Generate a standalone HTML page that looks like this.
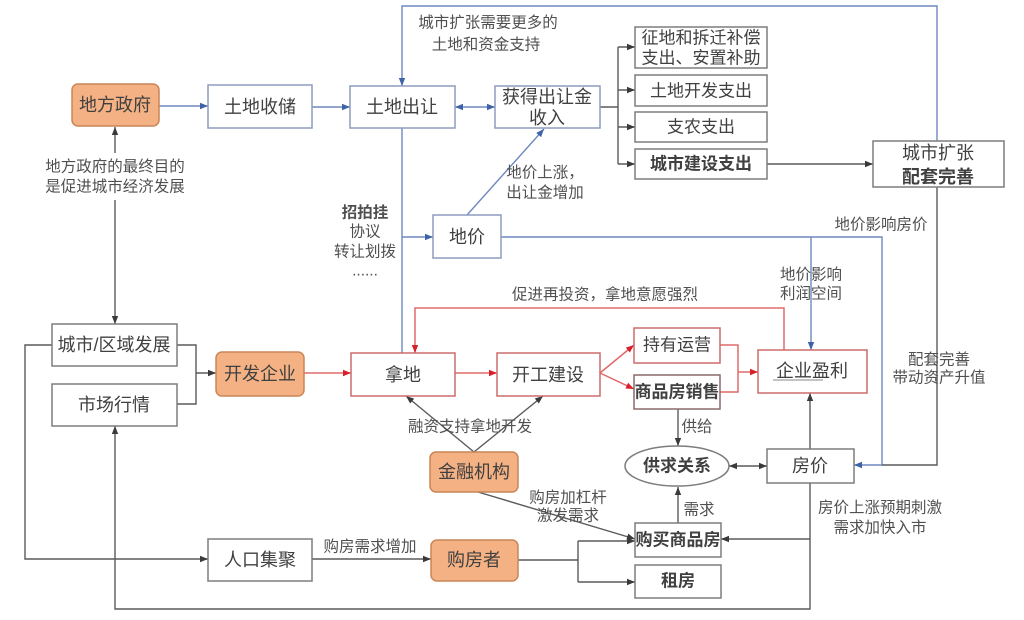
<!DOCTYPE html>
<html>
<head>
<meta charset="utf-8">
<style>
  html,body{margin:0;padding:0;background:#fff;}
  svg{display:block;}
  text{font-family:"Liberation Sans","Noto Sans CJK SC",sans-serif;fill:#404040;}
  .bx{font-size:18px;}
  .sb{font-size:17px;}
  .lb{font-size:15.5px;fill:#505050;}
  .b{font-weight:bold;}
</style>
</head>
<body>
<svg width="1024" height="620" viewBox="0 0 1024 620" xmlns="http://www.w3.org/2000/svg">
  <defs>
    <marker id="ab" viewBox="0 0 10 10" refX="10" refY="5" markerWidth="9" markerHeight="8" markerUnits="userSpaceOnUse" orient="auto-start-reverse">
      <path d="M0,1 L10,5 L0,9 z" fill="#3f63a8"/>
    </marker>
    <marker id="ag" viewBox="0 0 10 10" refX="10" refY="5" markerWidth="9" markerHeight="8" markerUnits="userSpaceOnUse" orient="auto-start-reverse">
      <path d="M0,1 L10,5 L0,9 z" fill="#3a3a3a"/>
    </marker>
    <marker id="ar" viewBox="0 0 10 10" refX="10" refY="5" markerWidth="9" markerHeight="8" markerUnits="userSpaceOnUse" orient="auto-start-reverse">
      <path d="M0,1 L10,5 L0,9 z" fill="#d8202a"/>
    </marker>
  </defs>

  <!-- ============ connectors: blue ============ -->
  <g fill="none" stroke="#6f88bf" stroke-width="1.4">
    <path d="M159,106 H208" marker-end="url(#ab)"/>
    <path d="M312,107 H350" marker-end="url(#ab)"/>
    <path d="M455,107 H495" marker-start="url(#ab)" marker-end="url(#ab)"/>
    <path d="M937,141 V6 H402 V86" marker-end="url(#ab)"/>
    <path d="M402,128 V353"/>
    <path d="M402,237 H433" marker-end="url(#ab)"/>
    <path d="M467,215 L544,129" marker-end="url(#ab)"/>
    <path d="M501,237 H882 V465 H854" marker-end="url(#ab)"/>
    <path d="M811,237 V350" marker-end="url(#ab)"/>
  </g>

  <!-- ============ connectors: gray ============ -->
  <g fill="none" stroke="#5a5a5a" stroke-width="1.4">
    <path d="M600,107 H618"/>
    <path d="M618,47 V164"/>
    <path d="M618,47 H635" marker-end="url(#ag)"/>
    <path d="M618,90 H635" marker-end="url(#ag)"/>
    <path d="M618,127 H635" marker-end="url(#ag)"/>
    <path d="M618,164 H635" marker-end="url(#ag)"/>
    <path d="M767,164 H873" marker-end="url(#ag)"/>
    <path d="M937,187 V465 H882"/>
    <path d="M115,153 V127" marker-end="url(#ag)"/>
    <path d="M115,200 V324" marker-end="url(#ag)"/>
    <path d="M177,345 H196 V404 H177"/>
    <path d="M196,373 H216" marker-end="url(#ag)"/>
    <path d="M52,345 H25 V559 H208" marker-end="url(#ag)"/>
    <path d="M312,559 H431" marker-end="url(#ag)"/>
    <path d="M474,452 L406,396" marker-end="url(#ag)"/>
    <path d="M474,452 L543,396" marker-end="url(#ag)"/>
    <path d="M478,492 L635,539" marker-end="url(#ag)"/>
    <path d="M518,560 H578"/>
    <path d="M578,541 V582"/>
    <path d="M578,541 H635" marker-end="url(#ag)"/>
    <path d="M578,582 H635" marker-end="url(#ag)"/>
    <path d="M678,409 V446" marker-end="url(#ag)"/>
    <path d="M678,523 V487" marker-end="url(#ag)"/>
    <path d="M729,466 H767" marker-start="url(#ag)" marker-end="url(#ag)"/>
    <path d="M810,449 V393" marker-end="url(#ag)"/>
    <path d="M810,483 V609 H115 V426" marker-end="url(#ag)"/>
    <path d="M810,539 H721" marker-end="url(#ag)"/>
  </g>

  <!-- ============ connectors: red ============ -->
  <g fill="none" stroke="#e06a6a" stroke-width="1.5">
    <path d="M304,373 H351" marker-end="url(#ar)"/>
    <path d="M455,373 H497" marker-end="url(#ar)"/>
    <path d="M600,373 L634,345" marker-end="url(#ar)"/>
    <path d="M600,373 L634,389" marker-end="url(#ar)"/>
    <path d="M720,345 H738 V392 H720"/>
    <path d="M738,372 H758" marker-end="url(#ar)"/>
    <path d="M784,350 V308 H415 V353" marker-end="url(#ar)"/>
  </g>

  <!-- ============ boxes ============ -->
  <!-- orange -->
  <g fill="#f4b183" stroke="#c98657" stroke-width="1.5">
    <rect x="72" y="84" width="87" height="42" rx="6"/>
    <rect x="216" y="352" width="88" height="44" rx="6"/>
    <rect x="430" y="452" width="88" height="40" rx="6"/>
    <rect x="431" y="540" width="87" height="41" rx="6"/>
  </g>
  <!-- blue-gray -->
  <g fill="#fff" stroke="#8d9cbd" stroke-width="1.5">
    <rect x="208" y="85" width="104" height="43"/>
    <rect x="350" y="86" width="105" height="42"/>
    <rect x="495" y="86" width="105" height="42"/>
    <rect x="433" y="215" width="68" height="43"/>
  </g>
  <!-- gray -->
  <g fill="#fff" stroke="#7d7d7d" stroke-width="1.5">
    <rect x="635" y="27" width="132" height="41"/>
    <rect x="635" y="75" width="132" height="31"/>
    <rect x="635" y="112" width="132" height="30"/>
    <rect x="635" y="149" width="132" height="30"/>
    <rect x="873" y="141" width="131" height="46"/>
    <rect x="52" y="324" width="125" height="42"/>
    <rect x="52" y="384" width="125" height="42"/>
    <rect x="767" y="449" width="87" height="34"/>
    <rect x="635" y="523" width="86" height="34"/>
    <rect x="635" y="565" width="86" height="33"/>
    <rect x="208" y="539" width="104" height="42"/>
    <ellipse cx="677" cy="466" rx="52" ry="20"/>
  </g>
  <!-- red -->
  <g fill="#fff" stroke="#cc6b6b" stroke-width="1.5">
    <rect x="351" y="353" width="104" height="43"/>
    <rect x="497" y="353" width="103" height="43"/>
    <rect x="634" y="328" width="86" height="35"/>
    <rect x="758" y="350" width="109" height="43"/>
  </g>
  <g fill="#fff" stroke="#8a6a6a" stroke-width="1.5">
    <rect x="634" y="375" width="86" height="34"/>
  </g>
  <line x1="773" y1="380" x2="823" y2="380" stroke="#888" stroke-width="1"/>

  <!-- ============ box texts ============ -->
  <g text-anchor="middle" dominant-baseline="central">
    <text class="bx" x="115" y="105">地方政府</text>
    <text class="bx" x="260" y="107">土地收储</text>
    <text class="bx" x="402" y="107">土地出让</text>
    <text class="bx" x="547" y="97">获得出让金</text>
    <text class="bx" x="547" y="118">收入</text>
    <text class="sb" x="701" y="38">征地和拆迁补偿</text>
    <text class="sb" x="701" y="58">支出、安置补助</text>
    <text class="sb" x="701" y="91">土地开发支出</text>
    <text class="sb" x="701" y="127">支农支出</text>
    <text class="sb b" x="701" y="164">城市建设支出</text>
    <text class="bx" x="938" y="153">城市扩张</text>
    <text class="bx b" x="938" y="177">配套完善</text>
    <text class="bx" x="467" y="237">地价</text>
    <text class="bx" x="114" y="345">城市/区域发展</text>
    <text class="bx" x="114" y="405">市场行情</text>
    <text class="bx" x="260" y="374">开发企业</text>
    <text class="bx" x="403" y="375">拿地</text>
    <text class="bx" x="548" y="375">开工建设</text>
    <text class="sb" x="677" y="345">持有运营</text>
    <text class="sb b" x="677" y="392">商品房销售</text>
    <text class="bx" x="812" y="371">企业盈利</text>
    <text class="sb b" x="677" y="466">供求关系</text>
    <text class="bx" x="810" y="466">房价</text>
    <text class="bx" x="474" y="472">金融机构</text>
    <text class="bx" x="474" y="560">购房者</text>
    <text class="bx" x="260" y="560">人口集聚</text>
    <text class="sb b" x="678" y="540">购买商品房</text>
    <text class="sb b" x="678" y="581">租房</text>
  </g>

  <!-- ============ labels ============ -->
  <g text-anchor="middle" dominant-baseline="central">
    <text class="lb" x="488" y="23">城市扩张需要更多的</text>
    <text class="lb" x="486" y="45">土地和资金支持</text>
    <text class="lb" x="115" y="167">地方政府的最终目的</text>
    <text class="lb" x="115" y="187">是促进城市经济发展</text>
    <text class="lb" x="545" y="173">地价上涨，</text>
    <text class="lb" x="545" y="193">出让金增加</text>
    <text class="lb b" x="365" y="213">招拍挂</text>
    <text class="lb" x="365" y="232">协议</text>
    <text class="lb" x="365" y="252">转让划拨</text>
    <text class="lb" x="365" y="271">......</text>
    <text class="lb" x="881" y="225">地价影响房价</text>
    <text class="lb" x="811" y="275">地价影响</text>
    <text class="lb" x="811" y="294">利润空间</text>
    <text class="lb" x="605" y="295">促进再投资，拿地意愿强烈</text>
    <text class="lb" x="939" y="360">配套完善</text>
    <text class="lb" x="939" y="378">带动资产升值</text>
    <text class="lb" x="470" y="427">融资支持拿地开发</text>
    <text class="lb" x="697" y="427">供给</text>
    <text class="lb" x="568" y="498">购房加杠杆</text>
    <text class="lb" x="568" y="516">激发需求</text>
    <text class="lb" x="699" y="510">需求</text>
    <text class="lb" x="880" y="508">房价上涨预期刺激</text>
    <text class="lb" x="880" y="528">需求加快入市</text>
    <text class="lb" x="370" y="547">购房需求增加</text>
  </g>
</svg>
</body>
</html>
